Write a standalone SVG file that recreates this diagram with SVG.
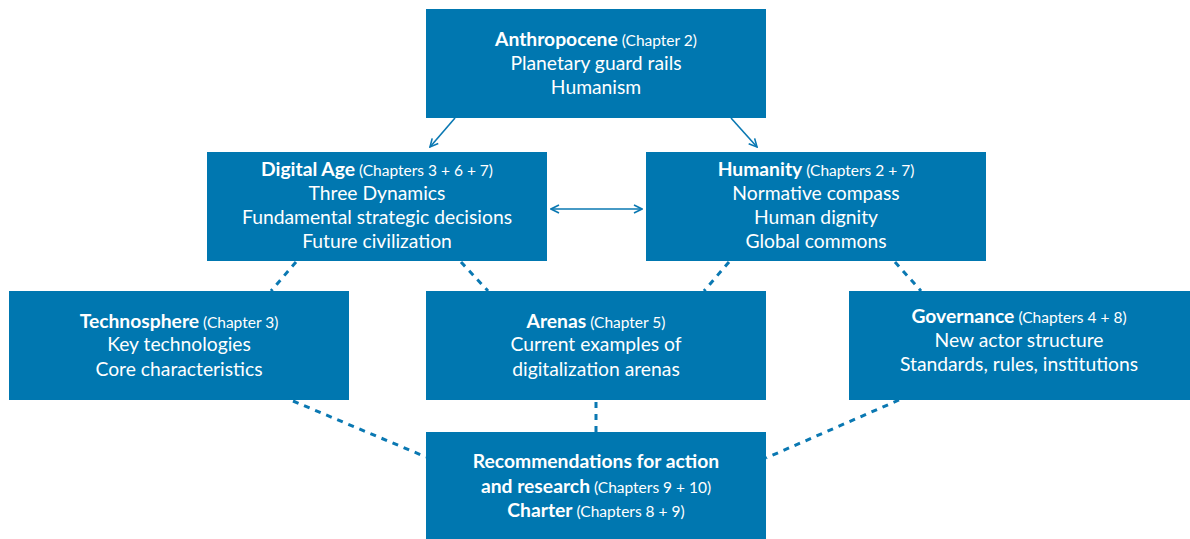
<svg xmlns="http://www.w3.org/2000/svg" width="1190" height="539" viewBox="0 0 1190 539">
<style>
.box{fill:#0077b0}
.t{font-family:Lato,"Open Sans",sans-serif;font-size:19.3px;fill:#fff;text-anchor:middle}
.b{font-weight:bold}
.s{font-size:15.5px}
.ln{stroke:#0a78b2;stroke-width:1.6;fill:none}
.dt{stroke:#0a78b2;stroke-width:3;fill:none;stroke-dasharray:6 6}
</style>
<defs>
<marker id="ah" viewBox="0 0 10 10" refX="9" refY="5" markerWidth="10" markerHeight="10" markerUnits="userSpaceOnUse" orient="auto-start-reverse">
<path d="M1,1 L9,5 L1,9" fill="none" stroke="#0a78b2" stroke-width="1.6"/>
</marker>
</defs>
<g id="connectors">
<line class="ln" x1="455" y1="118" x2="430" y2="147" marker-end="url(#ah)"/>
<line class="ln" x1="731" y1="118" x2="757" y2="147" marker-end="url(#ah)"/>
<line class="ln" x1="551" y1="209" x2="642" y2="209" marker-start="url(#ah)" marker-end="url(#ah)"/>
<line class="dt" x1="296" y1="262" x2="271" y2="291"/>
<line class="dt" x1="461" y1="262" x2="488" y2="291"/>
<line class="dt" x1="729" y1="262" x2="704" y2="291"/>
<line class="dt" x1="895" y1="262" x2="921" y2="291"/>
<line class="dt" x1="293" y1="401" x2="426" y2="457"/>
<line class="dt" x1="899" y1="400" x2="766" y2="458"/>
<line class="dt" x1="596" y1="402" x2="596" y2="432"/>
</g>
<g id="anthropocene">
<rect class="box" x="426" y="9" width="340" height="109"/>
<text class="t" x="596" y="46"><tspan class="b">Anthropocene</tspan><tspan class="s"> (Chapter 2)</tspan></text>
<text class="t" x="596" y="70">Planetary guard rails</text>
<text class="t" x="596" y="94">Humanism</text>
</g>
<g id="digital-age">
<rect class="box" x="207" y="152" width="340" height="109"/>
<text class="t" x="377" y="176"><tspan class="b">Digital Age</tspan><tspan class="s"> (Chapters 3 + 6 + 7)</tspan></text>
<text class="t" x="377" y="200">Three Dynamics</text>
<text class="t" x="377" y="224">Fundamental strategic decisions</text>
<text class="t" x="377" y="248">Future civilization</text>
</g>
<g id="humanity">
<rect class="box" x="646" y="152" width="340" height="109"/>
<text class="t" x="816" y="176"><tspan class="b">Humanity</tspan><tspan class="s"> (Chapters 2 + 7)</tspan></text>
<text class="t" x="816" y="200">Normative compass</text>
<text class="t" x="816" y="224">Human dignity</text>
<text class="t" x="816" y="248">Global commons</text>
</g>
<g id="technosphere">
<rect class="box" x="9" y="291" width="340" height="109"/>
<text class="t" x="179" y="328"><tspan class="b">Technosphere</tspan><tspan class="s"> (Chapter 3)</tspan></text>
<text class="t" x="179" y="351">Key technologies</text>
<text class="t" x="179" y="376">Core characteristics</text>
</g>
<g id="arenas">
<rect class="box" x="426" y="291" width="340" height="109"/>
<text class="t" x="596" y="328"><tspan class="b">Arenas</tspan><tspan class="s"> (Chapter 5)</tspan></text>
<text class="t" x="596" y="351">Current examples of</text>
<text class="t" x="596" y="376">digitalization arenas</text>
</g>
<g id="governance">
<rect class="box" x="849" y="291" width="341" height="109"/>
<text class="t" x="1019" y="323"><tspan class="b">Governance</tspan><tspan class="s"> (Chapters 4 + 8)</tspan></text>
<text class="t" x="1019" y="347">New actor structure</text>
<text class="t" x="1019" y="371">Standards, rules, institutions</text>
</g>
<g id="recommendations">
<rect class="box" x="426" y="432" width="340" height="107"/>
<text class="t b" x="596" y="468">Recommendations for action</text>
<text class="t" x="596" y="493"><tspan class="b">and research</tspan><tspan class="s"> (Chapters 9 + 10)</tspan></text>
<text class="t" x="596" y="517"><tspan class="b">Charter</tspan><tspan class="s"> (Chapters 8 + 9)</tspan></text>
</g>
</svg>
